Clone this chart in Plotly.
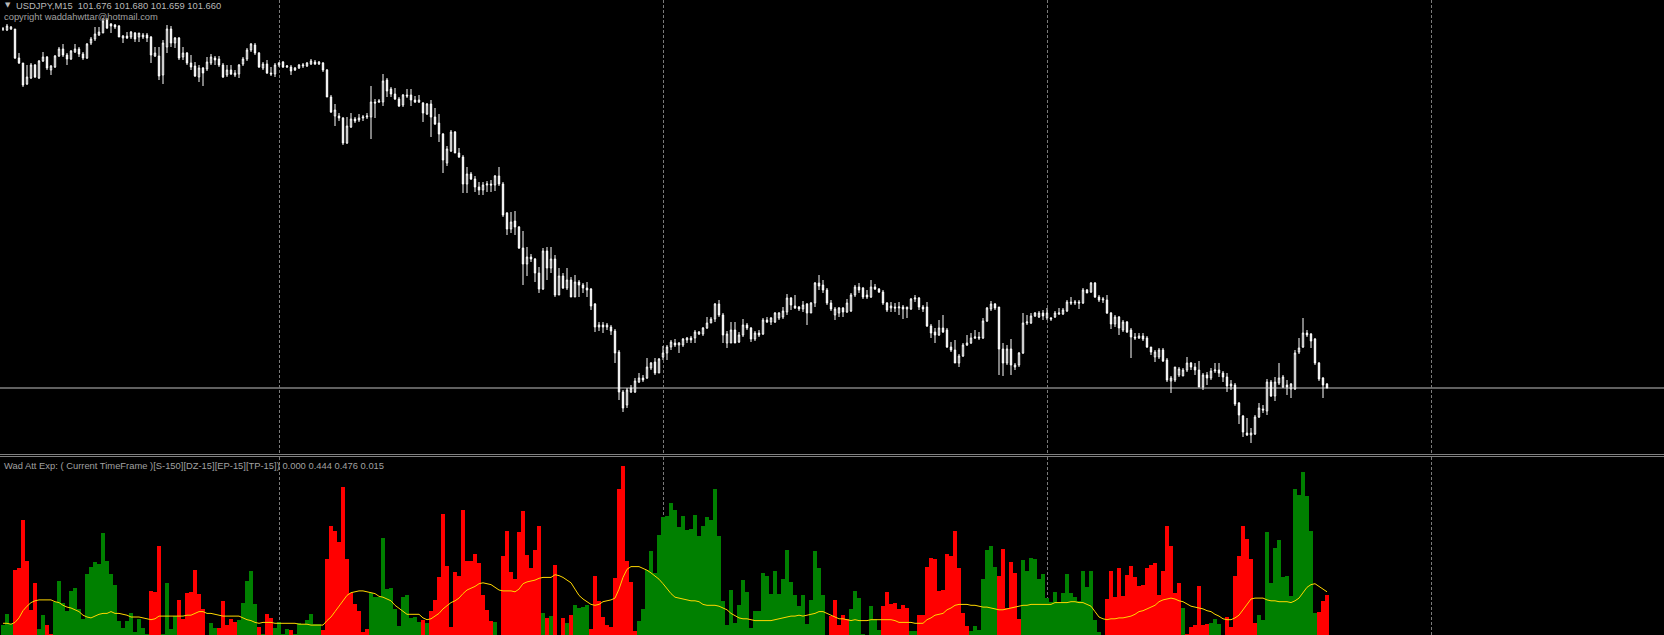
import plotly.graph_objects as go

# ---------------- price data (USDJPY, M15) ----------------
open_ = [
103.096,103.092,103.096,103.096,102.980,102.960,102.876,102.900,102.952,102.900,
102.968,102.984,102.932,102.944,102.988,103.016,102.992,102.976,103.004,103.016,
102.996,102.980,103.040,103.056,103.072,103.080,103.132,103.116,103.112,103.108,
103.060,103.068,103.064,103.080,103.064,103.064,103.072,103.064,102.988,102.988,
102.912,103.024,103.096,103.040,103.060,102.984,103.000,102.960,102.948,102.904,
102.940,102.936,102.960,102.980,102.976,102.952,102.912,102.932,102.912,102.916,
102.956,102.976,103.012,103.032,103.000,102.940,102.956,102.920,102.916,102.952,
102.964,102.944,102.944,102.932,102.940,102.948,102.948,102.956,102.964,102.956,
102.960,102.932,102.824,102.748,102.748,102.740,102.640,102.704,102.736,102.732,
102.740,102.744,102.744,102.804,102.804,102.804,102.892,102.856,102.836,102.816,
102.792,102.832,102.832,102.812,102.804,102.800,102.756,102.796,102.744,102.720,
102.676,102.560,102.608,102.684,102.600,102.584,102.476,102.516,102.496,102.464,
102.452,102.472,102.476,102.472,102.508,102.476,102.360,102.296,102.328,102.304,
102.220,102.156,102.184,102.176,102.120,102.056,102.208,102.140,102.176,102.032,
102.108,102.060,102.092,102.024,102.084,102.072,102.060,102.056,101.996,101.904,
101.912,101.904,101.904,101.888,101.804,101.644,101.592,101.644,101.644,101.684,
101.700,101.700,101.740,101.764,101.720,101.784,101.800,101.824,101.840,101.832,
101.832,101.852,101.860,101.860,101.876,101.876,101.900,101.920,101.936,101.996,
101.952,101.840,101.840,101.892,101.844,101.872,101.912,101.900,101.856,101.880,
101.876,101.932,101.924,101.924,101.940,101.944,101.964,102.020,101.988,101.984,
101.976,101.996,101.960,102.000,102.080,102.072,102.052,102.000,101.952,101.960,
101.980,101.964,101.968,102.032,102.064,102.060,102.032,102.024,102.064,102.056,
102.044,102.000,101.980,101.984,101.980,101.984,101.976,101.976,102.016,102.020,
101.984,101.984,101.908,101.884,101.872,101.900,101.892,101.824,101.812,101.760,
101.788,101.832,101.840,101.860,101.864,101.860,101.928,101.976,101.996,101.984,
101.816,101.760,101.816,101.744,101.752,101.800,101.920,101.920,101.948,101.944,
101.960,101.940,101.940,101.944,101.956,101.956,101.968,102.004,102.000,102.004,
102.000,102.052,102.044,102.080,102.024,102.012,102.012,101.960,101.916,101.944,
101.892,101.924,101.892,101.864,101.860,101.868,101.860,101.824,101.784,101.784,
101.812,101.772,101.688,101.692,101.712,101.708,101.732,101.760,101.744,101.732,
101.664,101.712,101.700,101.728,101.732,101.720,101.704,101.668,101.672,101.600,
101.548,101.480,101.472,101.476,101.544,101.576,101.568,101.684,101.628,101.680,
101.664,101.672,101.656,101.656,101.804,101.824,101.880,101.876,101.856,101.760,
101.700,101.676]

high = [
103.104,103.116,103.108,103.096,103.000,102.960,102.952,102.960,102.956,102.972,
103.004,102.988,102.952,102.992,103.024,103.036,103.000,103.012,103.036,103.024,
103.004,103.040,103.064,103.104,103.104,103.140,103.140,103.120,103.116,103.112,
103.072,103.084,103.088,103.084,103.080,103.080,103.080,103.068,103.024,103.024,
103.052,103.112,103.108,103.064,103.064,103.024,103.004,102.992,102.964,102.952,
102.944,102.984,102.996,102.988,102.988,102.960,102.952,102.952,102.932,102.956,
102.984,103.020,103.040,103.040,103.004,102.964,102.972,102.944,102.960,102.964,
102.968,102.952,102.952,102.944,102.956,102.960,102.964,102.976,102.972,102.968,
102.964,102.936,102.832,102.796,102.760,102.744,102.744,102.760,102.744,102.756,
102.752,102.760,102.868,102.816,102.816,102.916,102.900,102.864,102.860,102.824,
102.836,102.856,102.856,102.828,102.832,102.804,102.800,102.812,102.780,102.756,
102.680,102.628,102.692,102.688,102.620,102.592,102.544,102.524,102.508,102.484,
102.484,102.488,102.492,102.512,102.544,102.484,102.364,102.364,102.368,102.308,
102.288,102.224,102.196,102.180,102.144,102.220,102.224,102.224,102.192,102.140,
102.120,102.140,102.104,102.112,102.092,102.080,102.084,102.060,102.000,101.924,
101.924,101.920,101.912,101.896,101.812,101.652,101.660,101.672,101.700,101.720,
101.712,101.780,101.764,101.780,101.780,101.828,101.832,101.852,101.856,101.844,
101.860,101.864,101.868,101.892,101.888,101.904,101.944,101.944,102.000,102.012,
101.960,101.888,101.924,101.924,101.884,101.936,101.920,101.904,101.888,101.892,
101.940,101.944,101.944,101.964,101.964,101.984,102.036,102.024,102.032,101.988,
102.008,102.000,102.004,102.084,102.112,102.092,102.060,102.012,101.984,101.984,
101.984,102.016,102.040,102.072,102.080,102.064,102.052,102.092,102.076,102.060,
102.052,102.004,102.004,102.000,102.004,101.992,101.984,102.020,102.032,102.024,
101.992,102.004,101.916,101.900,101.932,101.952,101.900,101.844,101.852,101.796,
101.840,101.872,101.880,101.892,101.884,101.940,101.984,102.008,102.000,101.984,
101.840,101.832,101.856,101.760,101.804,101.960,101.952,101.960,101.964,101.968,
101.972,101.980,101.944,101.968,101.980,101.980,102.012,102.024,102.012,102.012,
102.060,102.056,102.084,102.084,102.032,102.024,102.032,101.964,101.952,101.948,
101.932,101.928,101.900,101.880,101.880,101.880,101.868,101.824,101.812,101.820,
101.820,101.780,101.708,101.744,101.744,101.740,101.784,101.764,101.760,101.768,
101.720,101.724,101.740,101.760,101.760,101.728,101.720,101.692,101.680,101.604,
101.552,101.540,101.500,101.552,101.600,101.592,101.696,101.692,101.704,101.760,
101.712,101.692,101.680,101.812,101.860,101.940,101.892,101.880,101.860,101.764,
101.704,101.680]

low = [
103.088,103.088,103.092,102.976,102.956,102.864,102.872,102.896,102.900,102.896,
102.964,102.932,102.912,102.940,102.984,102.984,102.952,102.972,103.000,102.984,
102.972,102.976,103.032,103.048,103.068,103.080,103.096,103.080,103.096,103.064,
103.040,103.056,103.056,103.044,103.044,103.056,103.044,102.960,102.984,102.892,
102.876,103.000,103.024,103.020,102.972,102.972,102.952,102.932,102.904,102.884,
102.868,102.928,102.952,102.952,102.944,102.900,102.904,102.912,102.904,102.900,
102.948,102.968,103.004,102.992,102.940,102.932,102.916,102.908,102.904,102.944,
102.940,102.940,102.912,102.928,102.936,102.940,102.944,102.952,102.952,102.952,
102.924,102.824,102.760,102.708,102.728,102.632,102.636,102.700,102.720,102.724,
102.728,102.736,102.656,102.740,102.800,102.788,102.824,102.824,102.812,102.784,
102.784,102.820,102.788,102.800,102.800,102.724,102.752,102.664,102.712,102.644,
102.520,102.548,102.604,102.600,102.580,102.440,102.440,102.492,102.444,102.432,
102.432,102.444,102.444,102.448,102.468,102.344,102.272,102.280,102.272,102.216,
102.072,102.108,102.164,102.084,102.040,102.052,102.092,102.120,102.024,102.032,
102.056,102.052,102.024,102.024,102.024,102.040,102.024,101.972,101.884,101.888,
101.880,101.892,101.872,101.760,101.612,101.564,101.580,101.640,101.640,101.680,
101.684,101.696,101.732,101.712,101.720,101.772,101.772,101.812,101.824,101.800,
101.824,101.840,101.840,101.840,101.872,101.868,101.896,101.920,101.924,101.944,
101.840,101.820,101.840,101.840,101.840,101.864,101.892,101.844,101.848,101.864,
101.872,101.920,101.912,101.920,101.932,101.936,101.952,101.972,101.976,101.968,
101.964,101.912,101.960,101.984,102.052,102.040,101.992,101.968,101.932,101.944,
101.944,101.960,101.964,102.024,102.040,102.016,102.016,102.020,102.052,102.040,
101.992,101.964,101.964,101.964,101.952,101.936,101.940,101.972,102.004,101.972,
101.964,101.904,101.860,101.840,101.868,101.880,101.820,101.804,101.760,101.744,
101.784,101.828,101.836,101.856,101.852,101.856,101.924,101.968,101.972,101.712,
101.708,101.752,101.712,101.732,101.744,101.796,101.912,101.916,101.944,101.940,
101.932,101.932,101.928,101.940,101.952,101.952,101.964,101.992,101.992,101.976,
101.996,102.040,102.040,102.020,102.004,102.000,101.956,101.896,101.904,101.872,
101.884,101.880,101.780,101.852,101.856,101.848,101.820,101.792,101.764,101.776,
101.764,101.684,101.640,101.684,101.704,101.708,101.724,101.732,101.712,101.664,
101.652,101.672,101.692,101.720,101.704,101.684,101.644,101.652,101.588,101.516,
101.464,101.468,101.440,101.472,101.540,101.560,101.552,101.624,101.608,101.672,
101.660,101.632,101.620,101.652,101.796,101.820,101.864,101.820,101.752,101.688,
101.620,101.659]

close = [
103.096,103.108,103.104,102.980,102.960,102.872,102.904,102.952,102.904,102.968,
102.984,102.940,102.948,102.988,103.016,102.992,102.976,103.008,103.016,102.996,
102.980,103.036,103.056,103.076,103.084,103.128,103.100,103.108,103.104,103.064,
103.068,103.060,103.084,103.056,103.080,103.072,103.060,102.992,103.000,102.908,
103.040,103.096,103.040,103.060,102.980,103.000,102.960,102.944,102.908,102.940,
102.920,102.964,102.984,102.972,102.952,102.904,102.932,102.916,102.920,102.952,
102.976,103.012,103.036,103.000,102.944,102.956,102.920,102.916,102.952,102.960,
102.944,102.948,102.928,102.940,102.952,102.952,102.960,102.968,102.956,102.964,
102.932,102.824,102.764,102.772,102.740,102.640,102.708,102.736,102.728,102.740,
102.744,102.748,102.804,102.800,102.808,102.888,102.848,102.836,102.816,102.788,
102.832,102.828,102.812,102.804,102.812,102.760,102.796,102.744,102.716,102.676,
102.572,102.616,102.684,102.600,102.584,102.476,102.516,102.496,102.464,102.452,
102.472,102.476,102.472,102.508,102.476,102.352,102.296,102.324,102.304,102.220,
102.156,102.184,102.176,102.120,102.056,102.208,102.140,102.176,102.032,102.108,
102.060,102.092,102.024,102.084,102.072,102.060,102.052,101.988,101.904,101.912,
101.904,101.912,101.888,101.800,101.644,101.580,101.652,101.660,101.688,101.700,
101.692,101.744,101.760,101.720,101.776,101.800,101.824,101.844,101.832,101.840,
101.856,101.860,101.852,101.884,101.884,101.900,101.920,101.936,101.996,101.952,
101.872,101.876,101.892,101.840,101.872,101.912,101.900,101.856,101.880,101.872,
101.932,101.924,101.940,101.960,101.960,101.968,102.020,101.992,101.980,101.976,
101.992,101.960,102.000,102.080,102.068,102.052,102.000,101.976,101.976,101.980,
101.964,102.000,102.032,102.064,102.052,102.024,102.024,102.064,102.056,102.044,
102.000,101.972,101.988,101.980,101.984,101.976,101.984,102.016,102.020,101.984,
101.976,101.908,101.880,101.872,101.900,101.884,101.824,101.812,101.760,101.788,
101.832,101.840,101.860,101.864,101.860,101.928,101.980,101.996,101.980,101.816,
101.760,101.816,101.752,101.752,101.800,101.920,101.924,101.948,101.960,101.960,
101.948,101.960,101.936,101.960,101.960,101.972,102.004,102.000,102.004,102.000,
102.052,102.040,102.080,102.024,102.012,102.016,101.960,101.916,101.944,101.900,
101.924,101.884,101.864,101.860,101.868,101.856,101.824,101.804,101.804,101.812,
101.768,101.692,101.700,101.744,101.736,101.732,101.760,101.744,101.732,101.664,
101.712,101.700,101.728,101.732,101.720,101.704,101.668,101.676,101.596,101.552,
101.484,101.472,101.480,101.544,101.580,101.572,101.684,101.628,101.684,101.700,
101.704,101.664,101.676,101.800,101.820,101.880,101.872,101.848,101.760,101.696,
101.672,101.660]

bid_price = 101.660

# ---------------- Wad Att Exp indicator ----------------
attack = [
0.11,0.23,0.12,0.72,0.74,1.28,0.82,0.28,0.58,0.07,
0.22,0.11,0.01,0.37,0.60,0.36,0.27,0.49,0.52,0.29,
0.18,0.68,0.76,0.81,0.79,1.13,0.82,0.68,0.56,0.16,
0.08,0.16,0.24,0.03,0.18,0.08,0.01,0.49,0.48,0.99,
0.01,0.58,0.07,0.21,0.39,0.18,0.47,0.48,0.72,0.46,
0.29,0.00,0.13,0.08,0.08,0.38,0.11,0.18,0.14,0.17,
0.36,0.60,0.71,0.34,0.09,0.01,0.23,0.19,0.08,0.14,
0.01,0.07,0.06,0.01,0.13,0.12,0.17,0.23,0.12,0.12,
0.06,0.84,1.21,1.16,1.03,1.64,0.84,0.47,0.34,0.27,
0.03,0.07,0.47,0.42,0.42,1.08,0.51,0.52,0.29,0.10,
0.42,0.44,0.19,0.20,0.14,0.17,0.13,0.27,0.39,0.64,
1.34,0.77,0.09,0.70,0.66,1.39,0.82,0.82,0.90,0.80,
0.44,0.28,0.16,0.14,0.00,0.88,1.16,0.70,0.62,1.14,
1.38,0.89,0.74,0.94,1.21,0.24,0.19,0.21,0.78,0.00,
0.19,0.13,0.22,0.33,0.30,0.31,0.33,0.07,0.66,0.38,
0.20,0.11,0.09,0.63,1.62,1.88,0.82,0.59,0.04,0.16,
0.29,0.72,0.93,0.69,1.11,1.31,1.32,1.47,1.39,1.20,
1.32,1.17,1.18,1.33,1.10,1.21,1.31,1.28,1.62,1.10,
0.38,0.11,0.50,0.13,0.33,0.61,0.48,0.08,0.27,0.27,
0.69,0.66,0.46,0.71,0.46,0.62,0.94,0.59,0.44,0.32,
0.44,0.12,0.39,0.93,0.74,0.44,0.00,0.21,0.39,0.11,
0.22,0.18,0.29,0.49,0.41,0.01,0.00,0.32,0.18,0.06,
0.32,0.48,0.34,0.36,0.29,0.33,0.30,0.04,0.04,0.22,
0.22,0.76,0.86,0.84,0.49,0.50,0.90,0.88,1.16,0.74,
0.24,0.10,0.04,0.10,0.06,0.62,0.94,0.99,0.76,0.66,
0.96,0.30,0.81,0.69,0.18,0.83,0.71,0.86,0.84,0.62,
0.68,0.41,0.37,0.48,0.37,0.47,0.68,0.47,0.42,0.38,
0.71,0.53,0.71,0.17,0.03,0.00,0.40,0.71,0.42,0.74,
0.43,0.67,0.77,0.64,0.54,0.56,0.74,0.78,0.80,0.44,
0.71,1.21,0.99,0.47,0.58,0.30,0.01,0.09,0.11,0.54,
0.11,0.12,0.13,0.18,0.12,0.00,0.20,0.09,0.66,0.88,
1.21,1.07,0.84,0.13,0.22,0.17,1.14,0.58,0.97,1.06,
0.64,0.66,0.43,1.62,1.56,1.81,1.54,1.16,0.24,0.26,
0.38,0.44]

direction = list(
"GGGRRRRRRG" "GRRGGGGGGG" "GGGGGGGGGG" "GGGGGGGRRR" "GGGGRRRRRR"
"RRGGRRRRRG" "GGGGRGRRGG" "GGRGGGGGGG" "RRRRRRRRRR" "RRGGGGGGGG"
"GGGGGRGRRR" "RRRRRRRRRR" "RRRGGRRRRR" "RRRRRGRGRR" "RGRGGGGRRR"
"RRRRRRRRRG" "GGGGGGGGGG" "GGGGGGGGGG" "GGGGGGGGGG" "GGGGGGGGGG"
"GGGGGGGRRR" "RRGGGGGGGG" "RRRRRRRGGR" "RRRRRRRRRR" "RRGGGGGGGR"
"RRRRRGGGGG" "GGGGGGGGGG" "GGGGGGRRRR" "RRRRRRRRRR" "RRRRRGRRRR"
"RRGGGGRRRR" "RRRRGGGGGG" "GGGGGGGGGR" "RR")

signal = [
0.13,0.13,0.12,0.14,0.19,0.27,0.32,0.36,0.38,0.39,
0.39,0.39,0.39,0.37,0.36,0.33,0.31,0.30,0.28,0.26,
0.22,0.20,0.19,0.21,0.23,0.24,0.24,0.26,0.24,0.24,
0.23,0.22,0.20,0.20,0.20,0.19,0.18,0.17,0.18,0.21,
0.21,0.21,0.21,0.21,0.21,0.21,0.22,0.22,0.24,0.26,
0.26,0.24,0.24,0.23,0.22,0.21,0.21,0.21,0.21,0.21,
0.19,0.17,0.16,0.14,0.13,0.14,0.14,0.14,0.13,0.13,
0.13,0.13,0.13,0.13,0.12,0.12,0.12,0.11,0.11,0.11,
0.11,0.16,0.20,0.26,0.32,0.39,0.44,0.47,0.48,0.49,
0.49,0.48,0.47,0.46,0.43,0.42,0.40,0.38,0.33,0.30,
0.26,0.23,0.23,0.23,0.23,0.19,0.17,0.18,0.21,0.24,
0.29,0.33,0.36,0.38,0.41,0.46,0.50,0.52,0.54,0.57,
0.58,0.57,0.56,0.53,0.50,0.49,0.49,0.49,0.48,0.51,
0.57,0.59,0.60,0.61,0.63,0.64,0.64,0.64,0.67,0.66,
0.64,0.61,0.58,0.51,0.44,0.40,0.37,0.34,0.33,0.34,
0.37,0.38,0.39,0.41,0.51,0.64,0.73,0.76,0.76,0.76,
0.74,0.72,0.69,0.66,0.62,0.57,0.51,0.46,0.42,0.41,
0.40,0.39,0.38,0.38,0.37,0.34,0.33,0.33,0.33,0.32,
0.30,0.28,0.24,0.21,0.19,0.18,0.18,0.17,0.16,0.16,
0.16,0.16,0.16,0.17,0.18,0.19,0.20,0.21,0.21,0.22,
0.21,0.22,0.23,0.24,0.26,0.26,0.24,0.22,0.20,0.18,
0.18,0.17,0.16,0.17,0.16,0.16,0.16,0.17,0.17,0.17,
0.17,0.17,0.17,0.16,0.14,0.14,0.14,0.14,0.13,0.13,
0.13,0.17,0.19,0.22,0.23,0.24,0.28,0.30,0.33,0.34,
0.34,0.34,0.33,0.33,0.32,0.31,0.31,0.30,0.29,0.28,
0.28,0.29,0.30,0.31,0.32,0.33,0.33,0.34,0.34,0.34,
0.34,0.34,0.34,0.36,0.36,0.36,0.36,0.37,0.37,0.36,
0.36,0.34,0.32,0.26,0.20,0.18,0.17,0.18,0.18,0.19,
0.19,0.20,0.21,0.23,0.26,0.27,0.29,0.31,0.33,0.37,
0.39,0.40,0.41,0.40,0.38,0.37,0.34,0.32,0.31,0.30,
0.29,0.27,0.26,0.23,0.21,0.18,0.17,0.17,0.19,0.22,
0.28,0.34,0.40,0.41,0.41,0.41,0.39,0.38,0.38,0.37,
0.37,0.37,0.36,0.38,0.41,0.47,0.53,0.56,0.57,0.54,
0.51,0.48]

title_text = "USDJPY,M15  101.676 101.680 101.659 101.660"
copyright_text = "copyright waddahwttar@hotmail.com"
ind_text = "Wad Att Exp: ( Current TimeFrame )[S-150][DZ-15][EP-15][TP-15]) 0.000 0.444 0.476 0.015"

n = len(close)
assert len(open_) == n and len(high) == n and len(low) == n
assert len(attack) == n and len(direction) == n and len(signal) == n
bars = list(range(n))

W, H = 1664, 635
GREEN, RED, YELLOW = "#008000", "#FF0000", "#FFD700"
TXT = 9.4

fig = go.Figure()
fig.add_trace(go.Candlestick(
    x=bars, open=open_, high=high, low=low, close=close,
    increasing=dict(line=dict(color="#FFFFFF", width=1), fillcolor="#000000"),
    decreasing=dict(line=dict(color="#FFFFFF", width=1), fillcolor="#FFFFFF"),
    whiskerwidth=0, hoverinfo="skip", showlegend=False, xaxis="x", yaxis="y"))

up_vals = [v if d == "G" else None for v, d in zip(attack, direction)]
dn_vals = [v if d == "R" else None for v, d in zip(attack, direction)]
fig.add_trace(go.Bar(x=bars, y=up_vals, width=1, marker=dict(color=GREEN, line=dict(width=0)),
                     showlegend=False, hoverinfo="skip", xaxis="x2", yaxis="y2"))
fig.add_trace(go.Bar(x=bars, y=dn_vals, width=1, marker=dict(color=RED, line=dict(width=0)),
                     showlegend=False, hoverinfo="skip", xaxis="x2", yaxis="y2"))
fig.add_trace(go.Scatter(x=bars, y=signal, mode="lines", line=dict(color=YELLOW, width=1),
                         showlegend=False, hoverinfo="skip", xaxis="x2", yaxis="y2"))

top_bottom_px = 453
sub_top_px = 457
x_range = [-0.75, (W - 3) / 4.0]
grid = dict(showgrid=True, gridcolor="#7a7a7a", gridwidth=1, griddash="3px,2px",
            tick0=69, dtick=96, showticklabels=False, ticks="", zeroline=False,
            showline=False, range=x_range, fixedrange=True)

fig.update_layout(
    width=W, height=H,
    margin=dict(l=0, r=0, t=0, b=0, pad=0),
    paper_bgcolor="#000000", plot_bgcolor="#000000",
    barmode="overlay", bargap=0, boxgap=0.5,
    hovermode=False,
    xaxis=dict(domain=[0, 1], anchor="y", rangeslider=dict(visible=False), **grid),
    xaxis2=dict(domain=[0, 1], anchor="y2", matches="x", **grid),
    yaxis=dict(domain=[(H - top_bottom_px) / H, 1], range=[101.400, 103.212],
               showgrid=False, showticklabels=False, zeroline=False, ticks="", fixedrange=True),
    yaxis2=dict(domain=[0, (H - sub_top_px) / H], range=[0, 1.978],
                showgrid=False, showticklabels=False, zeroline=False, ticks="", fixedrange=True),
    font=dict(family="Liberation Sans", size=TXT, color="#a8a8a8"),
)

# current bid line
fig.add_shape(type="line", xref="paper", x0=0, x1=1, yref="y", y0=bid_price, y1=bid_price,
              line=dict(color="#c0c0c0", width=1), layer="below")
# sub-window separator
for ypx in (454.5, 456.5):
    fig.add_shape(type="line", xref="paper", x0=0, x1=1, yref="paper",
                  y0=(H - ypx) / H, y1=(H - ypx) / H, line=dict(color="#808080", width=1))

fig.add_annotation(text="▼", xref="paper", yref="paper", x=3 / W, y=1 - 5 / H,
                   xanchor="left", yanchor="middle", showarrow=False,
                   font=dict(family="DejaVu Sans", size=7, color="#b8b8b8"))
fig.add_annotation(text=title_text, xref="paper", yref="paper", x=14 / W, y=1 - 5.5 / H,
                   xanchor="left", yanchor="middle", showarrow=False,
                   font=dict(size=TXT, color="#b8b8b8"))
fig.add_annotation(text=copyright_text, xref="paper", yref="paper", x=2 / W, y=1 - 16 / H,
                   xanchor="left", yanchor="middle", showarrow=False,
                   font=dict(size=TXT, color="#a0a0a0"))
fig.add_annotation(text=ind_text, xref="paper", yref="paper", x=2 / W, y=(H - 465.5) / H,
                   xanchor="left", yanchor="middle", showarrow=False,
                   font=dict(size=TXT, color="#a0a0a0"))

fig.write_html("out.html",
               config={"displayModeBar": False, "staticPlot": True},
               post_script="document.body.style.margin='0';"
                           "document.body.style.overflow='hidden';"
                           "document.body.style.background='#000';")
